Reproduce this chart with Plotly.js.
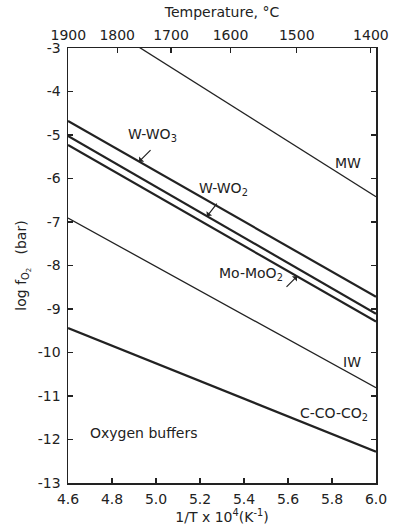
<!DOCTYPE html>
<html>
<head>
<meta charset="utf-8">
<script src="https://cdn.plot.ly/plotly-3.0.1.min.js"></script>
<style>
  html, body { margin: 0; padding: 0; background: #fff; }
  #chart { width: 402px; height: 532px; }
</style>
</head>
<body>
<div id="chart"></div>
<script>
// Oxygen buffer curves: log fO2 (bar) vs 1/T x 10^4 (K^-1), end points at 4.6 and 6.0
const invT = [4.6, 6.0];
const MW = [-1.95, -6.42];
const W_WO3 = [-4.68, -8.72];
const W_WO2 = [-5.02, -9.11];
const Mo_MoO2 = [-5.23, -9.29];
const IW = [-6.91, -10.81];
const C_CO_CO2 = [-9.44, -12.28];

// Axis ticks
const xTickVals = [4.6, 4.8, 5.0, 5.2, 5.4, 5.6, 5.8, 6.0];
const xTickText = ["4.6", "4.8", "5.0", "5.2", "5.4", "5.6", "5.8", "6.0"];
const yTickVals = [-3, -4, -5, -6, -7, -8, -9, -10, -11, -12, -13];
const yTickText = ["-3", "-4", "-5", "-6", "-7", "-8", "-9", "-10", "-11", "-12", "-13"];
const tempC = [1900, 1800, 1700, 1600, 1500, 1400];

const INK = "#222";
const FONT = { family: "DejaVu Sans, sans-serif", size: 14, color: INK };

function line(y, width) {
  return {
    x: invT, y: y, type: "scatter", mode: "lines",
    line: { color: INK, width: width }, hoverinfo: "skip", showlegend: false
  };
}

// y of a buffer line at a given 1/T
function yAt(arr, x) {
  return arr[0] + (arr[1] - arr[0]) * (x - invT[0]) / (invT[1] - invT[0]);
}

const traces = [
  line(MW, 1.3),
  line(W_WO3, 2.2),
  line(W_WO2, 2.2),
  line(Mo_MoO2, 2.2),
  line(IW, 1.3),
  line(C_CO_CO2, 2.2),
  // invisible trace so the top temperature axis is drawn
  { x: invT, y: [-3, -3], xaxis: "x2", yaxis: "y", type: "scatter", mode: "lines",
    line: { width: 0 }, hoverinfo: "skip", showlegend: false }
];

function label(text, x, y) {
  return { text: text, x: x, y: y, xref: "x", yref: "y", showarrow: false, font: FONT };
}
function pointer(x, arr, ax, ay) {
  return {
    text: "", x: x, y: yAt(arr, x), xref: "x", yref: "y", showarrow: true,
    ax: ax, ay: ay, arrowhead: 1, arrowsize: 1, arrowwidth: 1.2, arrowcolor: INK,
    standoff: 0, startstandoff: 0
  };
}

const annotations = [
  label("W-WO<sub>3</sub>", 4.982, -5.0),
  label("W-WO<sub>2</sub>", 5.305, -6.24),
  label("Mo-MoO<sub>2</sub>", 5.432, -8.2),
  label("MW", 5.873, -5.64),
  label("IW", 5.891, -10.22),
  label("C-CO-CO<sub>2</sub>", 5.809, -11.41),
  label("Oxygen buffers", 4.941, -11.85),
  pointer(4.923, W_WO3, 13, -13),
  pointer(5.232, W_WO2, 11, -14),
  pointer(5.641, Mo_MoO2, -12, 12)
];

const layout = {
  width: 402, height: 532,
  margin: { l: 68, r: 26, t: 48, b: 49 },
  paper_bgcolor: "#fff", plot_bgcolor: "#fff",
  font: FONT,
  showlegend: false,
  xaxis: {
    range: [4.6, 6.0], tickvals: xTickVals, ticktext: xTickText,
    ticks: "inside", ticklen: 5, tickwidth: 1.2, tickcolor: INK,
    showline: true, linecolor: INK, linewidth: 1.5, mirror: true,
    showgrid: false, zeroline: false, tickfont: FONT, ticklabelstandoff: 3,
    title: { text: "1/T x 10<sup>4</sup>(K<sup>-1</sup>)", font: FONT, standoff: 5 }
  },
  xaxis2: {
    range: [4.6, 6.0], overlaying: "x", side: "top",
    tickvals: tempC.map(t => 1e4 / (t + 273.15)),
    ticktext: tempC.map(String),
    ticks: "inside", ticklen: 5, tickwidth: 1.2, tickcolor: INK,
    showline: false, showgrid: false, zeroline: false, tickfont: FONT,
    ticklabelstandoff: 4,
    title: { text: "Temperature, °C", font: FONT, standoff: 6 }
  },
  yaxis: {
    range: [-13, -3], tickvals: yTickVals, ticktext: yTickText,
    ticks: "inside", ticklen: 5, tickwidth: 1.2, tickcolor: INK,
    showline: true, linecolor: INK, linewidth: 1.5, mirror: "ticks",
    showgrid: false, zeroline: false, tickfont: FONT, ticklabelstandoff: 3,
    title: { text: "log f<sub>O<sub>2</sub></sub>   (bar)", font: FONT, standoff: 8 }
  },
  annotations: annotations
};

Plotly.newPlot("chart", traces, layout, { displayModeBar: false, staticPlot: true });
</script>
</body>
</html>
